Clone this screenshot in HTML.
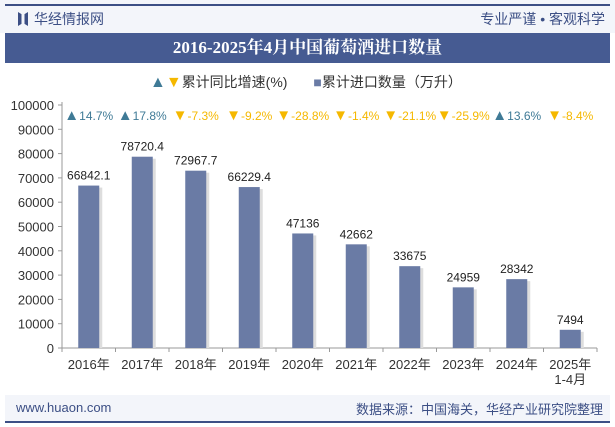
<!DOCTYPE html>
<html><head><meta charset="utf-8"><style>
body{margin:0;width:615px;height:427px;background:#fff;font-family:"Liberation Sans","Noto Sans CJK SC",sans-serif;overflow:hidden;position:relative}
.abs{position:absolute}
</style></head><body>
<div class="abs" style="left:0;top:0;width:615px;height:33px;background:#f3f5fa"></div>
<div class="abs" style="left:5px;top:4px;width:605px;height:2px;background:#3c4f85"></div>
<div class="abs" style="left:18px;top:12px;width:10px;height:14px;background:#3c4f85;clip-path:polygon(0 0,35% 15%,35% 85%,0 100%,0 0,100% 0,65% 15%,65% 85%,100% 100%,100% 0)"></div>
<div class="abs" style="left:34px;top:9px;font-size:14px;color:#3c4f85">华经情报网</div>
<div class="abs" style="right:10px;top:9px;font-size:14px;color:#3c4f85">专业严谨 • 客观科学</div>
<div class="abs" style="left:5px;top:33px;width:605px;height:30px;background:#465b92;color:#fff;font-family:'Liberation Serif','Noto Serif CJK SC',serif;font-weight:bold;font-size:17px;line-height:30px;text-align:center">2016-2025年4月中国葡萄酒进口数量</div>
<div class="abs" style="left:150px;top:72px;font-size:14px;color:#333;white-space:nowrap">
<span><span style="color:#3f7a96;font-size:16px">▲</span><span style="color:#f5b800;font-size:16px">▼</span>累计同比增速(%)</span>
<span style="margin-left:22px"><span style="color:#6a7ba5">■</span>累计进口数量（万升）</span></div>
<svg class="abs" style="left:0;top:0" width="615" height="427" id="chart"></svg>
<div class="abs" style="left:5px;top:395px;width:605px;height:26px;background:#f3f5fa"></div>
<div class="abs" style="left:5px;top:421px;width:605px;height:2px;background:#3c4f85"></div>
<div class="abs" style="left:16px;top:400px;font-size:13px;color:#3c4f85">www.huaon.com</div>
<div class="abs" style="right:12px;top:399px;font-size:13px;color:#3c4f85">数据来源：中国海关，华经产业研究院整理</div>
<script>
const categories=["2016年","2017年","2018年","2019年","2020年","2021年","2022年","2023年","2024年","2025年"];
const values=[66842.1,78720.4,72967.7,66229.4,47136,42662,33675,24959,28342,7494];
const growth=[14.7,17.8,-7.3,-9.2,-28.8,-1.4,-21.1,-25.9,13.6,-8.4];
const ticks=[0,10000,20000,30000,40000,50000,60000,70000,80000,90000,100000];
const svg=document.getElementById('chart');
const NS="http://www.w3.org/2000/svg";
const x0=62,x1=597,y0=348,y1=105,max=100000;
const slot=(x1-x0)/categories.length;
const y=v=>y0-(v/max)*(y0-y1);
const xc=i=>x0+slot*(i+0.5);
function mk(t,a,txt,parent){const e=document.createElementNS(NS,t);for(const k in a)e.setAttribute(k,a[k]);if(txt!=null)e.textContent=txt;(parent||svg).appendChild(e);return e;}
let e=mk('line',{x1:x0,y1:y1-3,x2:x0,y2:y0,stroke:'#999'});

e=mk('line',{x1:x0,y1:y0,x2:x1,y2:y0,stroke:'#999'});

ticks.forEach(t=>{
 const tl=mk('line',{x1:x0-4,y1:y(t),x2:x0,y2:y(t),stroke:'#999'});
 
 const tx=mk('text',{x:x0-8,y:y(t)+5,'text-anchor':'end','font-size':13,fill:'#333'},t);
 
});
for(let i=0;i<=categories.length;i++){
 const tl=mk('line',{x1:x0+slot*i,y1:y0,x2:x0+slot*i,y2:y0+4,stroke:'#999'});
 
}
categories.forEach((c,i)=>{
 const v=values[i],bw=21;
 const sh=mk('rect',{x:xc(i)-bw/2+3,y:y(v)+2,width:bw,height:y0-y(v)-2,fill:'#ddd'});
 
 const b=mk('rect',{x:xc(i)-bw/2,y:y(v),width:bw,height:y0-y(v),fill:'#6a7ba5'});
 
 const l=mk('text',{x:xc(i),y:y(v)-6,'text-anchor':'middle','font-size':12,fill:'#222'},v);
 
 const xl=mk('text',{x:xc(i),y:y0+21,'text-anchor':'middle','font-size':13,fill:'#333'},c);
 
 const g=growth[i],up=g>=0;
 const gl=mk('text',{x:xc(i),y:120,'text-anchor':'middle','font-size':12,fill:up?'#3f7a96':'#f5b800'});
 
 mk('tspan',{'font-size':15},up?'▲':'▼',gl);
 mk('tspan',{},g+'%',gl);
});
e=mk('text',{x:xc(9),y:y0+36,'text-anchor':'middle','font-size':13,fill:'#333'},'1-4月');

</script>
</body></html>
